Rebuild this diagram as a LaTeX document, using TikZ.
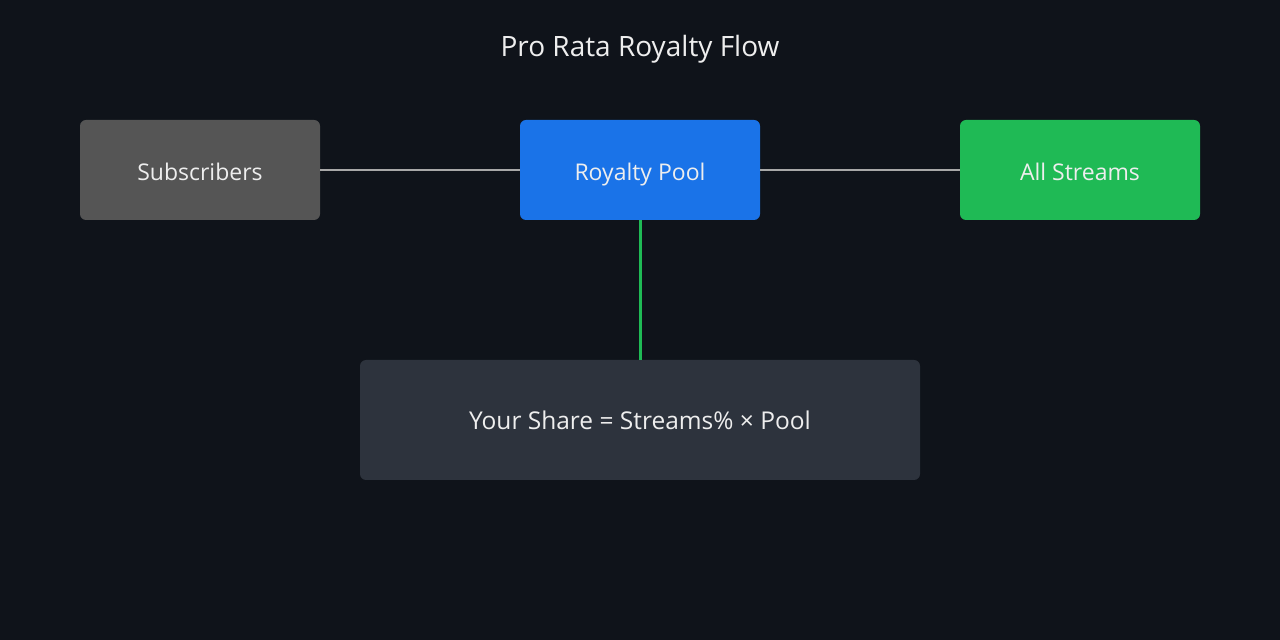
\documentclass[tikz,border=0pt]{standalone}
\usepackage{fontspec}
\setmainfont{Open Sans}
\usepackage{tikz}
\usetikzlibrary{positioning}
\definecolor{bgcol}{HTML}{0F131A}
\definecolor{subcol}{HTML}{555555}
\definecolor{poolcol}{HTML}{1A73E8}
\definecolor{streamcol}{HTML}{1FBA55}
\definecolor{sharecol}{HTML}{2D333D}
\definecolor{txtcol}{HTML}{EEEEEE}
\definecolor{linkcol}{HTML}{A8A8A8}

\begin{document}
\begin{tikzpicture}[x=1pt, y=1pt,
		box/.style={rounded corners=6pt, minimum width=240pt, minimum height=100pt, inner sep=0pt, outer sep=0pt, text=txtcol, text height=21pt, text depth=0pt, font=\fontsize{23}{27}\selectfont},
		link/.style={draw=linkcol, line width=2pt}
	]
			\fill[bgcol] (0,0) rectangle (1280,640);
			\useasboundingbox (0,0) rectangle (1280,640);
			\node[text=txtcol, font=\fontsize{28}{32}\selectfont] (title) at (640,591) {Pro Rata Royalty Flow};
			\node[box, fill=subcol] (sub) at (200,470) {Subscribers};
			\node[box, fill=poolcol, right=200pt of sub] (pool) {Royalty Pool};
			\node[box, fill=streamcol, right=200pt of pool] (streams) {All Streams};
			\node[box, fill=sharecol, minimum width=560pt, minimum height=120pt, text height=19.5pt, font=\fontsize{24.5}{28}\selectfont, below=140pt of pool] (share) {Your Share = Streams\% × Pool};
			\draw[link] (sub) -- (pool);
			\draw[link] (pool) -- (streams);
			\draw[draw=streamcol, line width=3pt] (pool) -- (share);
		\end{tikzpicture}
\end{document}
